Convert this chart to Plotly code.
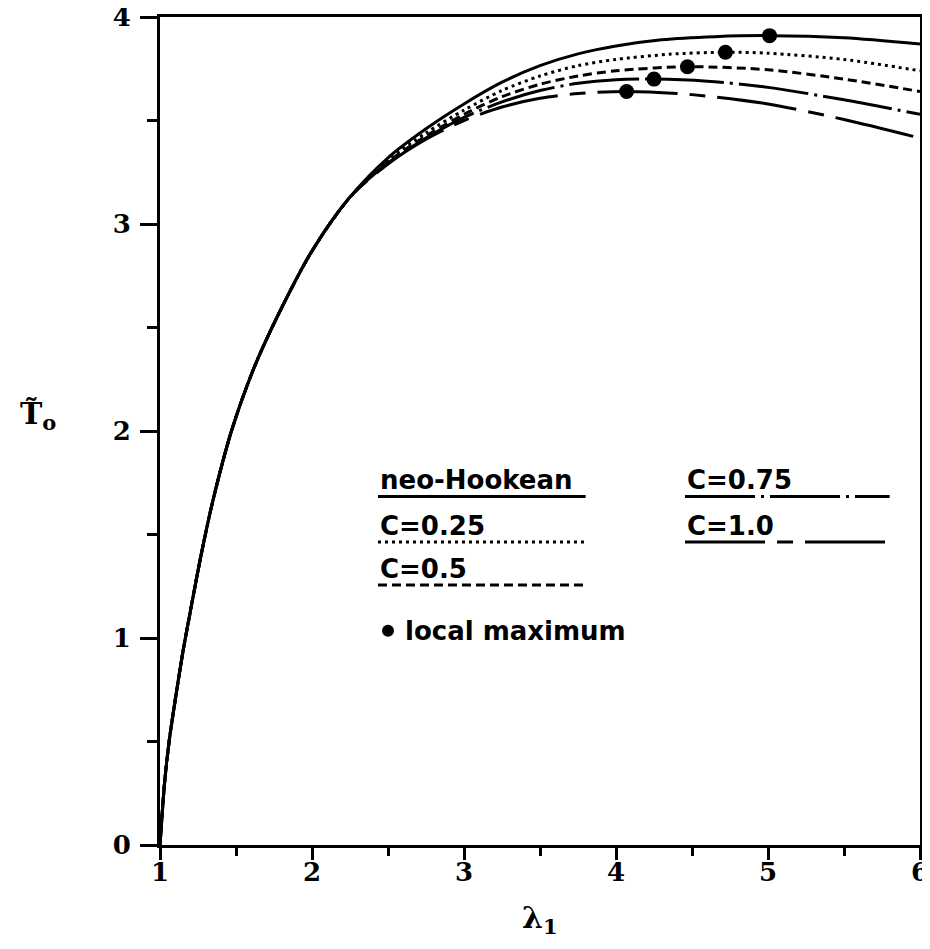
import plotly.graph_objects as go

# ---- data ----
lam_neo = [1.0, 1.03, 1.06, 1.1, 1.15, 1.2, 1.27, 1.35, 1.47, 1.61, 1.77, 2.0, 2.25,
           2.5, 2.75, 3.0, 3.25, 3.5, 3.75, 4.0, 4.3, 4.65, 5.01, 5.5, 6.0]
T_neo = [0.0, 0.30, 0.50, 0.70, 0.93, 1.13, 1.40, 1.67, 2.0, 2.29, 2.55, 2.87, 3.13,
         3.32, 3.46, 3.58, 3.685, 3.765, 3.822, 3.86, 3.89, 3.905, 3.91, 3.90, 3.87]

# common (coinciding) part for all C curves
lam_common = [1.0, 1.03, 1.06, 1.1, 1.15, 1.2, 1.27, 1.35, 1.47, 1.61, 1.77, 2.0, 2.25]
T_common = [0.0, 0.30, 0.50, 0.70, 0.93, 1.13, 1.40, 1.67, 2.0, 2.29, 2.55, 2.87, 3.13]

lam_c25 = [2.5, 2.75, 3.0, 3.25, 3.5, 3.75, 4.0, 4.35, 4.72, 5.0, 5.5, 6.0]
T_c25 = [3.31, 3.44, 3.55, 3.645, 3.715, 3.765, 3.795, 3.82, 3.83, 3.825, 3.795, 3.74]

lam_c50 = [2.5, 2.75, 3.0, 3.25, 3.5, 3.75, 4.0, 4.47, 5.0, 5.5, 6.0]
T_c50 = [3.30, 3.425, 3.53, 3.615, 3.675, 3.715, 3.74, 3.76, 3.745, 3.70, 3.64]

lam_c75 = [2.5, 2.75, 3.0, 3.25, 3.5, 3.75, 4.0, 4.25, 4.6, 5.0, 5.5, 6.0]
T_c75 = [3.295, 3.415, 3.515, 3.59, 3.645, 3.68, 3.697, 3.70, 3.69, 3.66, 3.60, 3.53]

lam_c100 = [2.5, 2.75, 3.0, 3.25, 3.5, 3.75, 4.07, 4.5, 5.0, 5.5, 6.0]
T_c100 = [3.29, 3.41, 3.50, 3.565, 3.607, 3.63, 3.64, 3.625, 3.58, 3.505, 3.415]

lam_max = [5.01, 4.72, 4.47, 4.25, 4.07]
T_max = [3.91, 3.83, 3.76, 3.70, 3.64]

series_names = ["neo-Hookean", "C=0.25", "C=0.5", "C=0.75", "C=1.0"]
x_ticks = [1, 2, 3, 4, 5, 6]
y_ticks = [0, 1, 2, 3, 4]

dashes = ["solid", "3px,4px", "9px,5px", "70px,6px,3px,6px", "80px,12px,16px,12px"]

fig = go.Figure()
curves = [
    (lam_neo, T_neo),
    (lam_common + lam_c25, T_common + T_c25),
    (lam_common + lam_c50, T_common + T_c50),
    (lam_common + lam_c75, T_common + T_c75),
    (lam_common + lam_c100, T_common + T_c100),
]
for (xs, ys), name, d in zip(curves, series_names, dashes):
    fig.add_trace(go.Scatter(x=xs, y=ys, mode="lines", name=name,
                             line=dict(color="black", width=3, dash=d,
                                       shape="spline", smoothing=0.8),
                             showlegend=False))

fig.add_trace(go.Scatter(x=lam_max, y=T_max, mode="markers", name="local maximum",
                         marker=dict(color="black", size=15), showlegend=False))

# ---- hand-drawn style legend inside the plot ----
legend_font = dict(family="DejaVu Sans", size=26, color="black", weight="bold")
legend_items = [
    (series_names[0], 2.434, 3.80, 1.684, dashes[0]),
    (series_names[1], 2.434, 3.80, 1.464, dashes[1]),
    (series_names[2], 2.434, 3.80, 1.256, dashes[2]),
    (series_names[3], 4.454, 5.80, 1.684, dashes[3]),
    (series_names[4], 4.454, 5.80, 1.464, dashes[4]),
]
for name, x0, x1, yl, d in legend_items:
    fig.add_shape(type="line", xref="x", yref="y", x0=x0, x1=x1, y0=yl, y1=yl,
                  line=dict(color="black", width=3, dash=d))
    fig.add_annotation(x=x0, y=yl - 0.005, xref="x", yref="y", text=name,
                       showarrow=False, xanchor="left", yanchor="bottom",
                       font=legend_font)

fig.add_trace(go.Scatter(x=[2.5], y=[1.035], mode="markers",
                         marker=dict(color="black", size=12), showlegend=False,
                         hoverinfo="skip"))
fig.add_annotation(x=2.6, y=1.035, xref="x", yref="y", text="local maximum",
                   showarrow=False, xanchor="left", yanchor="middle", font=legend_font)

tick_font = dict(family="DejaVu Serif", size=26, color="black", weight="bold")

fig.update_xaxes(range=[1, 6], tickvals=x_ticks, ticktext=[str(v) for v in x_ticks],
                 ticks="outside", ticklen=12, tickwidth=3, tickcolor="black",
                 minor=dict(dtick=0.5, tick0=1, ticks="outside", ticklen=8,
                            tickwidth=3, tickcolor="black"),
                 showline=True, linewidth=3, linecolor="black", mirror=True,
                 showgrid=False, zeroline=False, tickfont=tick_font,
                 automargin=False, ticklabeloverflow="allow", ticklabelstandoff=-10)
fig.update_yaxes(range=[0, 4], tickvals=y_ticks, ticktext=[str(v) for v in y_ticks],
                 ticks="outside", ticklen=17, tickwidth=3, tickcolor="black",
                 minor=dict(dtick=0.5, tick0=0, ticks="outside", ticklen=10,
                            tickwidth=3, tickcolor="black"),
                 showline=True, linewidth=3, linecolor="black", mirror=True,
                 showgrid=False, zeroline=False, tickfont=tick_font,
                 automargin=False, ticklabeloverflow="allow", ticklabelstandoff=4)

# axis titles
fig.add_annotation(x=0.5, y=-0.09, xref="paper", yref="paper",
                   text="λ<sub>1</sub>", showarrow=False,
                   font=dict(family="DejaVu Serif", size=30, color="black", weight="bold"),
                   xanchor="center", yanchor="middle")
fig.add_annotation(x=-0.187, y=0.519, xref="paper", yref="paper",
                   text="T\u0303<sub>o</sub>", showarrow=False,
                   font=dict(family="DejaVu Serif", size=30, color="black", weight="bold"),
                   xanchor="left", yanchor="middle")

# page body adds an 8px offset, so the figure is sized to land on the reference pixels
fig.update_layout(width=922, height=933,
                  margin=dict(l=152, r=10, t=9, b=96),
                  plot_bgcolor="white", paper_bgcolor="white",
                  showlegend=False)

fig.write_html("out.html")
